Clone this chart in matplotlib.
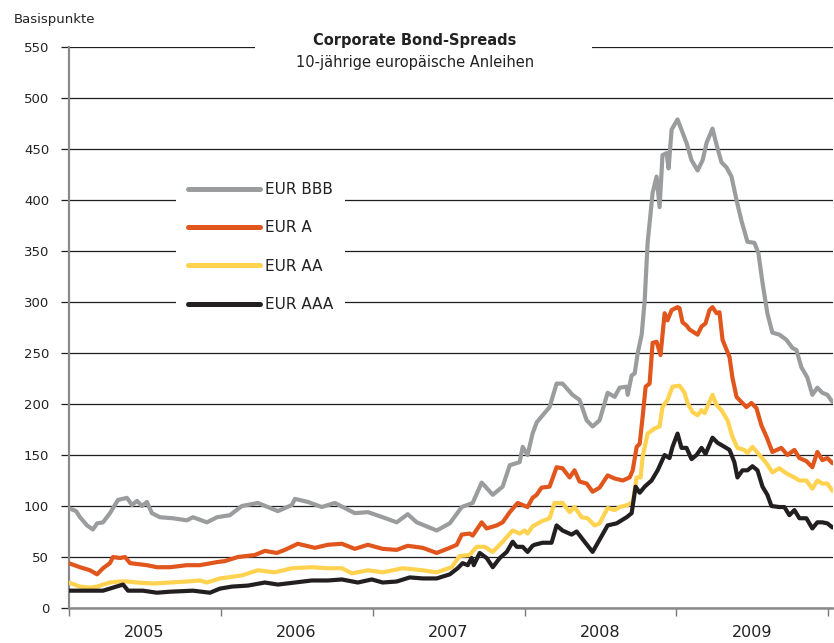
import matplotlib
matplotlib.use("Agg")
import matplotlib.pyplot as plt
from matplotlib.patches import Rectangle
from matplotlib.ticker import FixedLocator, NullFormatter, FixedFormatter

plt.rcParams['font.family'] = ['DejaVu Sans']

# ---------------- data (decimal years, basis points) ----------------
bbb_t = [2005.000, 2005.049, 2005.075, 2005.121, 2005.160, 2005.187, 2005.226, 2005.272, 2005.325,
         2005.384, 2005.417, 2005.450, 2005.483, 2005.515, 2005.548, 2005.601, 2005.686, 2005.778,
         2005.818, 2005.910, 2005.976, 2006.061, 2006.140, 2006.245, 2006.377, 2006.469, 2006.489,
         2006.574, 2006.666, 2006.752, 2006.883, 2006.969, 2007.067, 2007.159, 2007.231, 2007.291,
         2007.422, 2007.508, 2007.587, 2007.659, 2007.718, 2007.791, 2007.856, 2007.903, 2007.968,
         2007.988, 2008.020, 2008.053, 2008.080, 2008.165, 2008.211, 2008.250, 2008.316, 2008.362,
         2008.409, 2008.448, 2008.494, 2008.547, 2008.593, 2008.626, 2008.672, 2008.679, 2008.705,
         2008.725, 2008.745, 2008.771, 2008.791, 2008.810, 2008.843, 2008.869, 2008.889, 2008.908,
         2008.935, 2008.948, 2008.968, 2009.007, 2009.066, 2009.099, 2009.139, 2009.172, 2009.198,
         2009.237, 2009.264, 2009.296, 2009.329, 2009.362, 2009.395, 2009.427, 2009.467, 2009.513,
         2009.539, 2009.566, 2009.598, 2009.631, 2009.677, 2009.723, 2009.763, 2009.789, 2009.822,
         2009.861, 2009.894, 2009.927, 2009.960, 2009.993, 2010.026]
bbb_v = [98, 95, 89, 81, 77, 83, 84, 93, 106,
         108, 101, 105, 100, 104, 93, 89, 88, 86,
         89, 84, 89, 91, 100, 103, 95, 101, 107,
         104, 99, 103, 93, 94, 89, 84, 92, 84,
         76, 83, 99, 103, 123, 111, 119, 140, 143,
         158, 150, 171, 182, 197, 220, 220, 209, 204,
         184, 178, 184, 211, 207, 216, 217, 209, 228,
         230, 250, 268, 302, 358, 407, 423, 393, 444,
         446, 431, 469, 479, 456, 439, 429, 439, 456,
         470, 454, 437, 432, 423, 400, 380, 359, 358,
         348, 319, 289, 270, 268, 263, 255, 253, 236,
         226, 209, 216, 211, 209, 202]

a_t = [2005.000, 2005.075, 2005.141, 2005.187, 2005.226, 2005.272, 2005.292, 2005.338, 2005.371,
       2005.404, 2005.515, 2005.581, 2005.667, 2005.778, 2005.864, 2005.976, 2006.028, 2006.114,
       2006.226, 2006.291, 2006.370, 2006.423, 2006.508, 2006.620, 2006.706, 2006.798, 2006.883,
       2006.969, 2007.067, 2007.159, 2007.231, 2007.330, 2007.422, 2007.508, 2007.554, 2007.587,
       2007.639, 2007.659, 2007.718, 2007.751, 2007.817, 2007.856, 2007.903, 2007.955, 2008.020,
       2008.053, 2008.080, 2008.112, 2008.165, 2008.211, 2008.250, 2008.297, 2008.329, 2008.362,
       2008.409, 2008.448, 2008.494, 2008.547, 2008.593, 2008.646, 2008.692, 2008.712, 2008.738,
       2008.758, 2008.777, 2008.797, 2008.823, 2008.843, 2008.869, 2008.895, 2008.922, 2008.941,
       2008.968, 2009.007, 2009.020, 2009.040, 2009.066, 2009.086, 2009.139, 2009.165, 2009.191,
       2009.217, 2009.237, 2009.264, 2009.283, 2009.303, 2009.349, 2009.368, 2009.395, 2009.427,
       2009.460, 2009.493, 2009.526, 2009.559, 2009.592, 2009.631, 2009.690, 2009.730, 2009.776,
       2009.809, 2009.855, 2009.894, 2009.927, 2009.960, 2009.993, 2010.026]
a_v = [44, 40, 37, 33, 39, 44, 50, 49, 50,
       44, 42, 40, 40, 42, 42, 45, 46, 50,
       52, 56, 54, 57, 63, 59, 62, 63, 58,
       62, 58, 57, 61, 59, 54, 59, 62, 72,
       73, 71, 84, 78, 81, 84, 94, 103, 99,
       108, 111, 118, 119, 138, 137, 128, 135, 124,
       122, 114, 118, 130, 127, 125, 128, 135, 158,
       161, 187, 217, 220, 260, 261, 248, 289, 282,
       292, 295, 294, 280, 277, 273, 268, 276, 279,
       292, 295, 289, 290, 263, 246, 226, 207, 202,
       197, 201, 196, 179, 168, 153, 157, 150, 155,
       147, 144, 138, 153, 145, 147, 142]

aa_t = [2005.000, 2005.075, 2005.141, 2005.187, 2005.226, 2005.272, 2005.338, 2005.384, 2005.450,
        2005.555, 2005.667, 2005.778, 2005.864, 2005.910, 2005.995, 2006.048, 2006.140, 2006.245,
        2006.357, 2006.469, 2006.600, 2006.706, 2006.798, 2006.864, 2006.969, 2007.067, 2007.199,
        2007.330, 2007.422, 2007.521, 2007.573, 2007.639, 2007.685, 2007.738, 2007.791, 2007.856,
        2007.922, 2007.968, 2008.001, 2008.020, 2008.053, 2008.112, 2008.165, 2008.198, 2008.250,
        2008.297, 2008.329, 2008.376, 2008.415, 2008.461, 2008.494, 2008.547, 2008.593, 2008.626,
        2008.679, 2008.712, 2008.738, 2008.764, 2008.777, 2008.810, 2008.856, 2008.889, 2008.908,
        2008.941, 2008.974, 2009.020, 2009.053, 2009.073, 2009.106, 2009.139, 2009.165, 2009.185,
        2009.237, 2009.264, 2009.296, 2009.336, 2009.368, 2009.401, 2009.447, 2009.467, 2009.500,
        2009.546, 2009.592, 2009.631, 2009.677, 2009.723, 2009.776, 2009.809, 2009.855, 2009.894,
        2009.927, 2009.960, 2009.993, 2010.026]
aa_v = [25, 21, 20, 21, 23, 25, 26, 26, 25,
        24, 25, 26, 27, 25, 29, 30, 32, 37,
        35, 39, 40, 39, 39, 34, 37, 35, 39,
        37, 35, 40, 51, 52, 60, 60, 55, 65,
        76, 73, 76, 73, 80, 85, 88, 103, 103,
        94, 99, 89, 88, 81, 83, 98, 96, 99,
        101, 104, 128, 128, 148, 171, 176, 178, 197,
        204, 217, 218, 211, 201, 192, 189, 194, 191,
        209, 199, 194, 184, 168, 157, 155, 152, 158,
        150, 142, 133, 137, 132, 128, 125, 125, 117,
        125, 122, 122, 115]

aaa_t = [2005.000, 2005.121, 2005.226, 2005.292, 2005.358, 2005.391, 2005.489, 2005.581, 2005.667,
         2005.818, 2005.930, 2005.995, 2006.074, 2006.180, 2006.291, 2006.377, 2006.489, 2006.600,
         2006.706, 2006.798, 2006.903, 2006.995, 2007.067, 2007.159, 2007.245, 2007.330, 2007.422,
         2007.508, 2007.560, 2007.593, 2007.626, 2007.652, 2007.666, 2007.705, 2007.751, 2007.791,
         2007.837, 2007.883, 2007.922, 2007.949, 2007.988, 2008.020, 2008.053, 2008.066, 2008.119,
         2008.178, 2008.211, 2008.250, 2008.310, 2008.343, 2008.395, 2008.448, 2008.494, 2008.547,
         2008.606, 2008.672, 2008.705, 2008.731, 2008.758, 2008.791, 2008.836, 2008.876, 2008.922,
         2008.954, 2008.974, 2009.007, 2009.033, 2009.066, 2009.099, 2009.132, 2009.165, 2009.191,
         2009.237, 2009.270, 2009.316, 2009.349, 2009.381, 2009.401, 2009.434, 2009.467, 2009.500,
         2009.533, 2009.566, 2009.598, 2009.625, 2009.677, 2009.710, 2009.743, 2009.776, 2009.809,
         2009.855, 2009.894, 2009.927, 2009.960, 2009.993, 2010.026]
aaa_v = [17, 17, 17, 20, 23, 17, 17, 15, 16,
         17, 15, 19, 21, 22, 25, 23, 25, 27,
         27, 28, 25, 28, 25, 26, 30, 29, 29,
         33, 39, 44, 42, 49, 42, 54, 49, 40,
         49, 55, 65, 60, 60, 55, 61, 62, 64,
         64, 81, 76, 72, 75, 65, 55, 67, 81,
         83, 89, 93, 119, 113, 119, 125, 135, 150,
         147, 158, 171, 157, 157, 146, 150, 157, 151,
         167, 162, 158, 155, 143, 128, 135, 135, 139,
         135, 119, 111, 100, 99, 99, 91, 96, 88,
         88, 78, 84, 84, 83, 79]

series_names = ["EUR BBB", "EUR A", "EUR AA", "EUR AAA"]
series_colors = ["#9b9c9e", "#e0561c", "#ffd24f", "#231f20"]

year_edges = [2005, 2006, 2007, 2008, 2009, 2010]
year_labels = ["2005", "2006", "2007", "2008", "2009"]
y_ticks = list(range(0, 551, 50))

title = "Corporate Bond-Spreads"
subtitle = "10-jährige europäische Anleihen"
ylabel = "Basispunkte"

# ---------------- figure ----------------
fig = plt.figure(figsize=(8.34, 6.43), dpi=100)
ax = fig.add_axes([0.0823, 0.0544, 0.9165, 0.8725])
ax.set_xlim(2005.0, 2010.03)
ax.set_ylim(0, 550)
ax.set_axisbelow(True)

for t, v, c, n in zip([bbb_t, a_t, aa_t, aaa_t], [bbb_v, a_v, aa_v, aaa_v],
                      series_colors, series_names):
    ax.plot(t, v, color=c, lw=3.0, label=n, solid_joinstyle='round', solid_capstyle='round', zorder=3)

# grid
ax.set_yticks(y_ticks)
ax.yaxis.grid(True, color='#1e1e1e', lw=0.9)
ax.tick_params(axis='y', length=6, width=0.9, color='#1e1e1e', labelsize=9.5, pad=8, labelcolor='#222222')

# x axis
ax.xaxis.set_major_locator(FixedLocator(year_edges))
ax.xaxis.set_major_formatter(NullFormatter())
mids = [y + 0.5 for y in year_edges[:-1]]
ax.xaxis.set_minor_locator(FixedLocator(mids))
ax.xaxis.set_minor_formatter(FixedFormatter(year_labels))
ax.tick_params(axis='x', which='major', length=6, width=1.0, color='#7a7a7a', direction='out')
ax.tick_params(axis='x', which='minor', length=0, labelsize=11.5, pad=12, labelcolor='#222222')

for s in ['top', 'right']:
    ax.spines[s].set_visible(False)
ax.spines['left'].set_color('#8a8a8a')
ax.spines['left'].set_linewidth(1.6)
ax.spines['bottom'].set_color('#8a8a8a')
ax.spines['bottom'].set_linewidth(1.8)

# title box
ax.add_patch(Rectangle((0.2439, 0.94), 0.4408, 0.10, transform=ax.transAxes,
                       facecolor='white', edgecolor='none', zorder=1, clip_on=False))
ax.text(0.4532, 1.0110, title, transform=ax.transAxes, ha='center', va='center',
        fontsize=10.5, fontweight='bold', color='#222222', zorder=4)
ax.text(0.4532, 0.972, subtitle, transform=ax.transAxes, ha='center', va='center',
        fontsize=10.5, color='#222222', zorder=4)

fig.text(0.0168, 0.969, ylabel, ha='left', va='center', fontsize=9.5, color='#222222')

leg = ax.legend(loc='upper left', bbox_to_anchor=(0.1405, 0.7807), frameon=True,
                facecolor='white', edgecolor='none', framealpha=1, fancybox=False,
                fontsize=11, handlelength=4.7, handletextpad=0.3, labelspacing=1.52,
                borderpad=0.8, borderaxespad=0)
for line in leg.get_lines():
    line.set_linewidth(3.6)
    line.set_solid_capstyle('round')
for txt in leg.get_texts():
    txt.set_color('#222222')
leg.set_zorder(5)

fig.savefig("out.png", dpi=100)
